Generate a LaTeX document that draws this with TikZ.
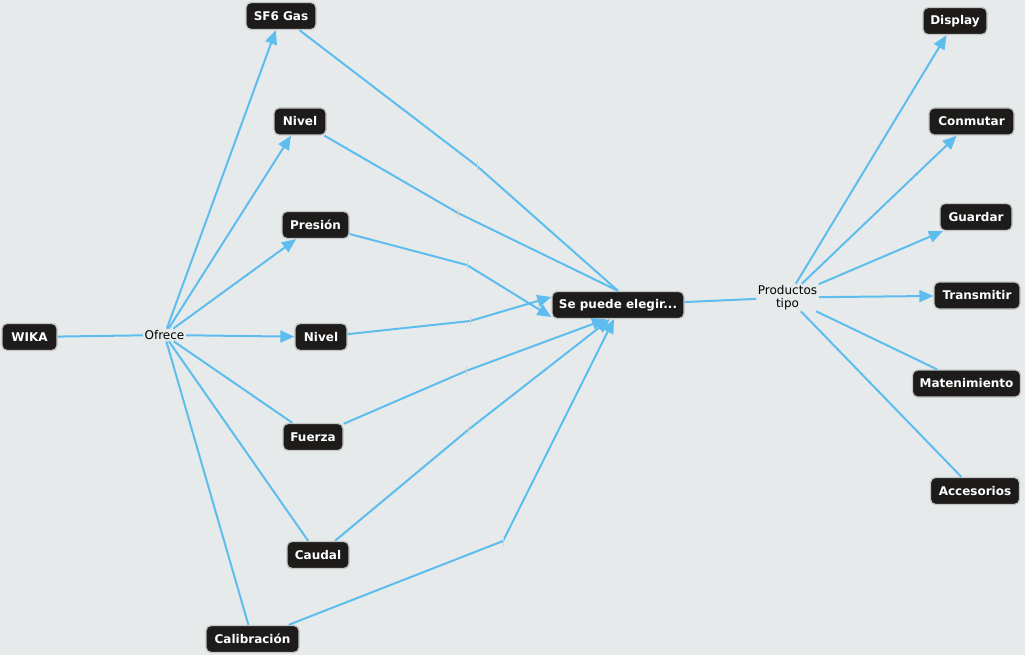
\documentclass[tikz,border=0pt]{standalone}
\usepackage{fontspec}
\setmainfont{DejaVu Sans}
\usetikzlibrary{arrows.meta}
\definecolor{bg}{HTML}{E6EAEB}
\definecolor{ln}{HTML}{5DBDEE}
\definecolor{cfill}{HTML}{1E1C1A}
\definecolor{cborder}{HTML}{C4C6C6}
\definecolor{tick}{HTML}{D2D6D8}
\begin{document}
\begin{tikzpicture}[x=1pt,y=-1pt,
 concept/.style={draw=cborder, line width=1.3pt, fill=cfill, rounded corners=5pt, text=white,
   font=\fontsize{12}{14}\selectfont\bfseries, minimum height=27pt, inner sep=0pt},
 phrase/.style={font=\fontsize{12}{12.5}\selectfont, text=black, inner sep=1.5pt, align=center},
 link/.style={draw=ln, line width=2pt},
 arr/.style={link, -{Triangle[length=14pt,width=12pt]}},
 tickmark/.style={draw=tick, line width=1pt},
]
\fill[bg] (0,0) rectangle (1025,655);
\useasboundingbox (0,0) rectangle (1025,655);

% concepts
\node[concept, minimum width=55pt] (wika) at (29.5,337) {WIKA};
\node[concept, minimum width=70pt] (sf6) at (281,16) {SF6 Gas};
\node[concept, minimum width=52pt] (nivel1) at (300,121.5) {Nivel};
\node[concept, minimum width=67pt] (presion) at (315.5,225) {Presión};
\node[concept, minimum width=52pt] (nivel2) at (321,337) {Nivel};
\node[concept, minimum width=60pt] (fuerza) at (313,437) {Fuerza};
\node[concept, minimum width=62pt] (caudal) at (318,555) {Caudal};
\node[concept, minimum width=93pt] (calib) at (252.5,639) {Calibración};
\node[concept, minimum width=132pt] (sp) at (618,305) {Se puede elegir...};
\node[concept, minimum width=64pt] (display) at (955,21) {Display};
\node[concept, minimum width=85pt] (conmutar) at (971.5,121.5) {Conmutar};
\node[concept, minimum width=72pt] (guardar) at (976,217) {Guardar};
\node[concept, minimum width=86pt] (transmitir) at (977,295.5) {Transmitir};
\node[concept, minimum width=108pt] (mant) at (966.5,383.5) {Matenimiento};
\node[concept, minimum width=89pt] (acc) at (975,491) {Accesorios};

% linking phrases
\node[phrase] (ofrece) at (164.5,335) {Ofrece};
\node[phrase] (ptipo) at (787.5,297.5) {Productos\\tipo};

% empty linking phrases
\coordinate (m1) at (477,166);
\coordinate (m2) at (458,213);
\coordinate (m3) at (467,265);
\coordinate (m4) at (470,321);
\coordinate (m5) at (466,371);
\coordinate (m6) at (468,430);
\coordinate (m7) at (503,541);

% WIKA -> Ofrece
\draw[link] (wika) -- (ofrece);
\draw[arr] (ofrece) -- (sf6);
\draw[arr] (ofrece) -- (nivel1);
\draw[arr] (ofrece) -- (presion);
\draw[arr] (ofrece) -- (nivel2);
\draw[link] (ofrece) -- (fuerza);
\draw[link] (ofrece) -- (caudal);
\draw[link] (ofrece) -- (calib);

% to Se puede elegir
\draw[link] (sf6) -- (m1) -- (sp.north);
\draw[link] (nivel1) -- (m2) -- (sp.north);
\draw[link] (presion) -- (m3);
\draw[arr] (m3) -- ([yshift=-12pt]sp.west);
\draw[link] (nivel2) -- (m4);
\draw[arr] (m4) -- ([yshift=8pt]sp.west);
\draw[link] (fuerza) -- (m5);
\draw[arr] (m5) -- ([xshift=-12pt]sp.south);
\draw[link] (caudal) -- (m6);
\draw[arr] (m6) -- ([xshift=-8pt]sp.south);
\draw[link] (calib) -- (m7);
\draw[arr] (m7) -- ([xshift=-4pt]sp.south);

% ticks of empty linking phrases
\foreach \m in {m1,m2,m3,m4,m5,m6,m7}
  \draw[tickmark] ([yshift=-5pt]\m) -- ([yshift=5pt]\m);

% right side
\draw[link] (sp) -- (ptipo);
\draw[arr] (ptipo) -- (display);
\draw[arr] (ptipo) -- (conmutar);
\draw[arr] (ptipo) -- (guardar);
\draw[arr] (ptipo) -- (transmitir);
\draw[link] (ptipo) -- (mant);
\draw[link] (ptipo) -- (acc);
\end{tikzpicture}
\end{document}
